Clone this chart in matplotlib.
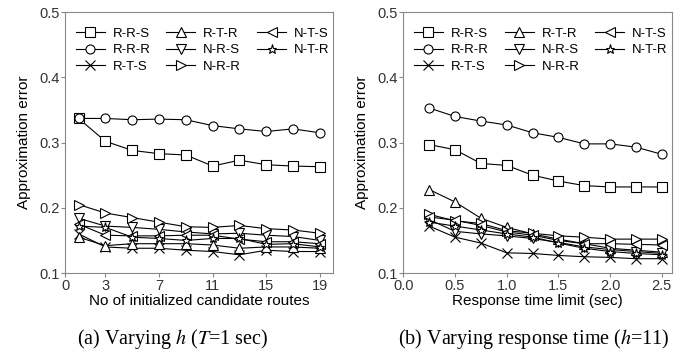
import matplotlib
matplotlib.use("Agg")
import matplotlib.pyplot as plt

plt.rcParams['font.family'] = ['Liberation Sans', 'DejaVu Sans']
plt.rcParams['mathtext.fontset'] = 'stix'

labels = ["R-R-S", "R-R-R", "R-T-S", "R-T-R", "N-R-S", "N-R-R", "N-T-S", "N-T-R"]
markers = ["s", "o", "x", "^", "v", ">", "<", "*"]

# (a) varying h
h_vals = [1, 3, 5, 7, 9, 11, 13, 15, 17, 19]
rrs_a = [0.337, 0.302, 0.288, 0.283, 0.281, 0.264, 0.273, 0.266, 0.264, 0.263]
rrr_a = [0.337, 0.337, 0.335, 0.336, 0.335, 0.326, 0.321, 0.317, 0.321, 0.315]
rts_a = [0.160, 0.140, 0.138, 0.138, 0.135, 0.133, 0.128, 0.135, 0.133, 0.133]
rtr_a = [0.155, 0.142, 0.145, 0.145, 0.145, 0.143, 0.138, 0.140, 0.140, 0.138]
nrs_a = [0.184, 0.172, 0.170, 0.167, 0.163, 0.160, 0.161, 0.158, 0.156, 0.150]
nrr_a = [0.205, 0.192, 0.185, 0.178, 0.171, 0.170, 0.173, 0.168, 0.166, 0.161]
nts_a = [0.175, 0.158, 0.157, 0.157, 0.158, 0.158, 0.152, 0.148, 0.148, 0.145]
ntr_a = [0.172, 0.170, 0.155, 0.153, 0.150, 0.153, 0.153, 0.144, 0.145, 0.140]

# (b) varying response time
t_vals = [0.25, 0.5, 0.75, 1.0, 1.25, 1.5, 1.75, 2.0, 2.25, 2.5]
rrs_b = [0.297, 0.289, 0.268, 0.265, 0.250, 0.241, 0.234, 0.232, 0.232, 0.232]
rrr_b = [0.353, 0.340, 0.333, 0.327, 0.315, 0.308, 0.298, 0.298, 0.293, 0.282]
rts_b = [0.172, 0.155, 0.146, 0.131, 0.130, 0.127, 0.125, 0.124, 0.122, 0.122]
rtr_b = [0.228, 0.209, 0.184, 0.170, 0.160, 0.152, 0.145, 0.138, 0.135, 0.132]
nrs_b = [0.182, 0.164, 0.160, 0.157, 0.153, 0.147, 0.140, 0.136, 0.133, 0.130]
nrr_b = [0.190, 0.180, 0.176, 0.165, 0.161, 0.157, 0.155, 0.152, 0.152, 0.152]
nts_b = [0.186, 0.181, 0.173, 0.163, 0.158, 0.150, 0.145, 0.145, 0.144, 0.143]
ntr_b = [0.178, 0.172, 0.166, 0.160, 0.155, 0.146, 0.138, 0.133, 0.130, 0.128]

series_a = [rrs_a, rrr_a, rts_a, rtr_a, nrs_a, nrr_a, nts_a, ntr_a]
series_b = [rrs_b, rrr_b, rts_b, rtr_b, nrs_b, nrr_b, nts_b, ntr_b]

fig = plt.figure(figsize=(6.93, 3.56), dpi=100)
ax1 = fig.add_axes([0.094, 0.233, 0.387, 0.733])
ax2 = fig.add_axes([0.582, 0.233, 0.388, 0.733])


def draw(ax, x, series):
    for ys, lab, m in zip(series, labels, markers):
        ax.plot(x, ys, color="black", lw=0.8, marker=m, markersize=6.5,
                markerfacecolor="white", markeredgecolor="black",
                markeredgewidth=0.8, label=lab)
    ax.set_ylim(0.1, 0.5)
    ax.set_yticks([0.1, 0.2, 0.3, 0.4, 0.5])
    ax.set_ylabel("Approximation error", fontsize=11, labelpad=6)
    for s in ax.spines.values():
        s.set_color("#888888")
    ax.tick_params(colors="#888888", labelcolor="#333333", labelsize=10.5,
                   length=3, pad=1)
    ax.legend(loc="upper left", bbox_to_anchor=(0.0, 0.98), ncol=3,
              frameon=False, fontsize=9.5, handlelength=2.2,
              columnspacing=1.2, labelspacing=0.3, borderaxespad=0.4,
              handletextpad=0.6)


draw(ax1, h_vals, series_a)
ax1.set_xlim(0, 20)
ax1.set_xticks([0, 3, 7, 11, 15, 19])
ax1.set_xlabel("No of initialized candidate routes", fontsize=11, labelpad=1)

draw(ax2, t_vals, series_b)
ax2.set_xlim(0, 2.6)
ax2.set_xticks([0.0, 0.5, 1.0, 1.5, 2.0, 2.5])
ax2.set_xticklabels(["0.0", "0.5", "1.0", "1.5", "2.0", "2.5"])
ax2.set_xlabel("Response time limit (sec)", fontsize=11, labelpad=1)

fig.text(0.249, 0.035, r"(a) Varying $h$ ($T$=1 sec)", ha="center",
         fontsize=14.5, family="Liberation Serif")
fig.text(0.77, 0.035, r"(b) Varying response time ($h$=11)", ha="center",
         fontsize=14.5, family="Liberation Serif")

fig.savefig("out.png", dpi=100)
